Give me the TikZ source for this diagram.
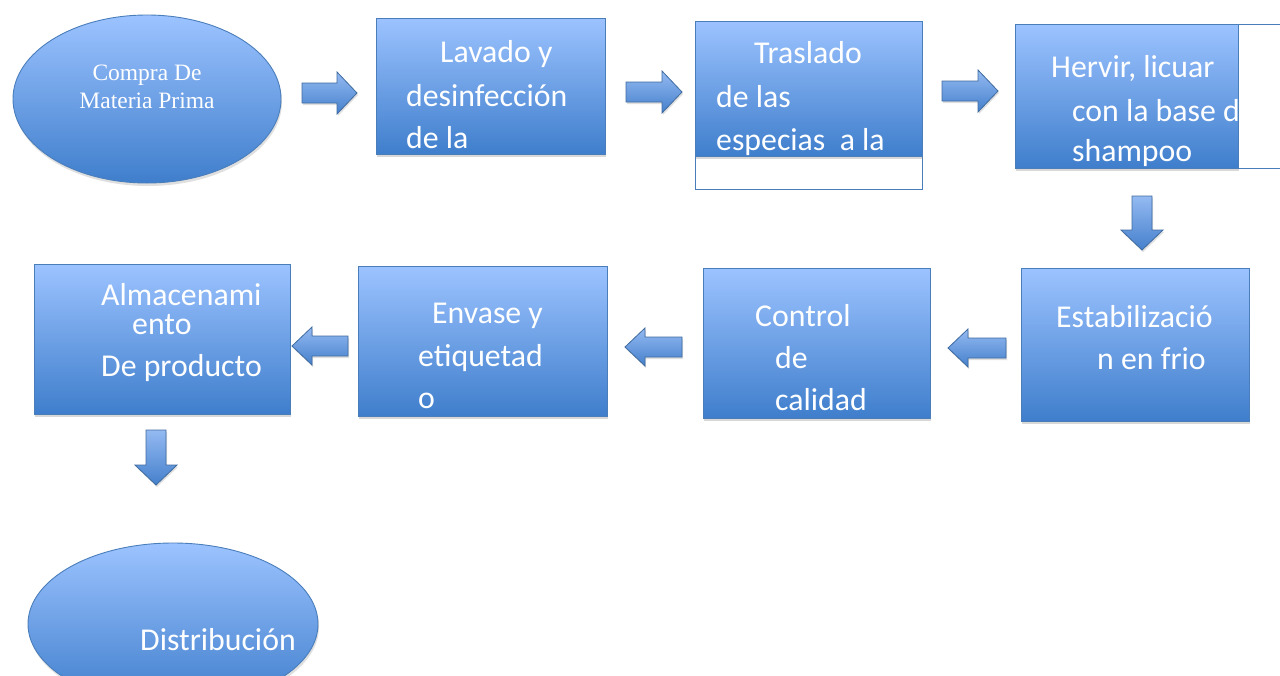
\documentclass[tikz,border=0pt]{standalone}
\usepackage{fontspec}
\setmainfont{Carlito}
\newfontfamily\tmsfont{Liberation Serif}
\usetikzlibrary{shapes.geometric,shadows}
\definecolor{btop}{HTML}{9CC3FF}
\definecolor{bbot}{HTML}{3F7ECC}
\definecolor{bline}{HTML}{4A7EBB}
\definecolor{atop}{HTML}{94BAF2}
\definecolor{abot}{HTML}{4580CC}
\tikzset{
  box/.style={rectangle, draw=bline, line width=0.9pt, top color=btop, bottom color=bbot,
    inner sep=0pt, drop shadow={opacity=0.3, shadow xshift=1pt, shadow yshift=-3pt}},
  ell/.style={ellipse, draw=bline, line width=0.9pt, top color=btop, bottom color=bbot,
    inner sep=0pt, drop shadow={opacity=0.25, shadow xshift=1pt, shadow yshift=-3pt}},
  frame/.style={draw=bline, line width=0.9pt, fill=white},
  blk/.style={draw=bline!85!black, line width=0.8pt, top color=atop, bottom color=abot,
    drop shadow={opacity=0.25, shadow xshift=1pt, shadow yshift=-2pt}},
  txt/.style={text=white, font=\fontsize{31.8}{37}\selectfont, inner sep=0pt, anchor=base west},
  ttxt/.style={text=white, font=\tmsfont\fontsize{23.5}{28}\selectfont, inner sep=0pt, anchor=base},
}
\newcommand{\rtArrow}[3]{\path[blk] (#1,{#3-10}) -- ({#2-20},{#3-10}) -- ({#2-20},{#3-21}) -- (#2,#3) -- ({#2-20},{#3+21}) -- ({#2-20},{#3+10}) -- (#1,{#3+10}) -- cycle;}
\newcommand{\lfArrow}[3]{\path[blk] (#2,{#3-10}) -- ({#1+20},{#3-10}) -- ({#1+20},{#3-19}) -- (#1,#3) -- ({#1+20},{#3+19}) -- ({#1+20},{#3+10}) -- (#2,{#3+10}) -- cycle;}
\newcommand{\dnArrow}[3]{\path[blk] ({#1-10},#2) -- ({#1+10},#2) -- ({#1+10},{#3-20}) -- ({#1+21},{#3-20}) -- (#1,#3) -- ({#1-21},{#3-20}) -- ({#1-10},{#3-20}) -- cycle;}
\begin{document}
\begin{tikzpicture}[x=1pt,y=-1pt]
\useasboundingbox[fill=white] (0,0) rectangle (1280,675);

% row 1
\node[ell, minimum width=268pt, minimum height=168pt] (e1) at (147,99) {};
\node[ttxt] (e1a) at (147,80) {Compra De};
\node[ttxt] (e1b) at (147,108) {Materia Prima};

\rtArrow{302}{357}{93}

\node[box, minimum width=229pt, minimum height=136pt] (b1) at (490.5,86) {};
\node[txt] (b1a) at (440,62) {Lavado y};
\node[txt] (b1b) at (406,106) {desinfección};
\node[txt] (b1c) at (406,148) {de la};

\rtArrow{626}{682}{92}

\path[frame] (695,21) rectangle (922,189);
\node[box, minimum width=227pt, minimum height=135pt] (b2) at (808.5,88.5) {};
\node[txt] (b2a) at (754,63) {Traslado};
\node[txt] (b2b) at (716,107) {de las};
\node[txt] (b2c) at (716,150) {especias\ \ a la};

\rtArrow{942}{998}{91}

\path[frame] (1015,24) rectangle (1300,168);
\node[box, minimum width=223pt, minimum height=144pt] (b3) at (1126.5,96) {};
\begin{scope}
\clip (1015,24) rectangle (1238.5,168);
\node[txt] (b3a) at (1051,77) {Hervir, licuar};
\node[txt] (b3b) at (1072,121) {con la base de};
\node[txt] (b3c) at (1072,161) {shampoo};
\end{scope}

\dnArrow{1142}{196}{250}

% row 2
\node[box, minimum width=228pt, minimum height=153pt] (b4) at (1135,344.5) {};
\node[txt] (b4a) at (1056,327) {Estabilizació};
\node[txt] (b4b) at (1097,369) {n en frio};

\lfArrow{948}{1006}{348}

\node[box, minimum width=227pt, minimum height=150pt] (b5) at (816.5,343) {};
\node[txt] (b5a) at (755,326) {Control};
\node[txt] (b5b) at (775,368) {de};
\node[txt] (b5c) at (775,410) {calidad};

\lfArrow{625}{682}{347}

\node[box, minimum width=249pt, minimum height=150pt] (b6) at (482.5,341) {};
\node[txt] (b6a) at (432,323) {Envase y};
\node[txt] (b6b) at (418,366) {etiquetad};
\node[txt] (b6c) at (418,408) {o};

\lfArrow{292}{348}{346}

\node[box, minimum width=256pt, minimum height=150pt] (b7) at (162,339) {};
\node[txt] (b7a) at (101,305) {Almacenami};
\node[txt] (b7b) at (132,334) {ento};
\node[txt] (b7c) at (101,376) {De producto};

\dnArrow{156}{430}{485}

\node[ell, minimum width=290pt, minimum height=162pt] (e2) at (173,624) {};
\node[txt] (e2a) at (140,650) {Distribución};
\end{tikzpicture}
\end{document}
